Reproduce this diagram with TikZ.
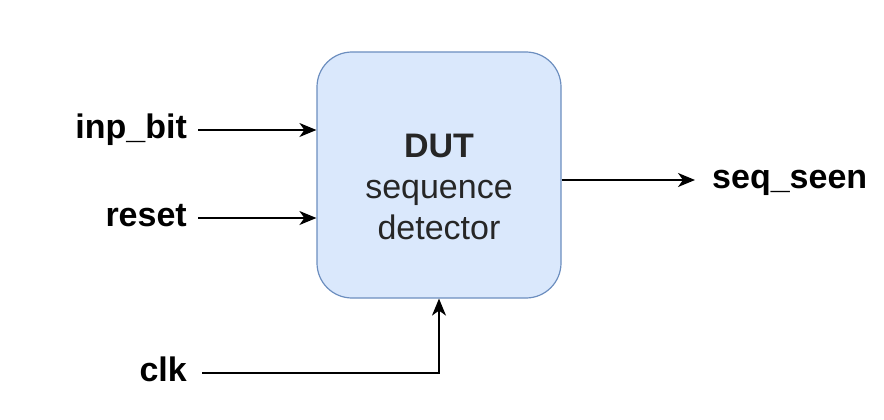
\documentclass[tikz,border=0pt]{standalone}
\usepackage{fontspec}
\setmainfont{Liberation Sans}
\usetikzlibrary{arrows.meta}
\definecolor{dutfill}{HTML}{DAE8FC}
\definecolor{dutline}{HTML}{6C8EBF}

\begin{document}
\begin{tikzpicture}[x=1pt,y=-1pt,
    sig/.style={font=\bfseries\fontsize{34}{40}\selectfont, inner sep=0pt, text height=24pt, text depth=7pt},
    wire/.style={line width=1.6pt, -{Stealth[length=17pt,width=14pt,inset=5pt]}}]
    \useasboundingbox (0,0) rectangle (884,420);
    % the block
    \node[draw=dutline, fill=dutfill, line width=1.2pt, rounded corners=35pt,
          minimum width=244pt, minimum height=246pt] (dut) at (439,175) {};
    \node[anchor=north, align=center, inner sep=0pt, text=black!85,
          font=\fontsize{34}{41}\selectfont] (dutname) at (439,134)
          {\textbf{DUT}\\sequence\\detector};
    % signals
    \node[sig, anchor=east] (inp) at (187,130) {inp\_bit};
    \node[sig, anchor=east] (rst) at (187,218) {reset};
    \node[sig, anchor=east] (clk) at (187,373) {clk};
    \node[sig, anchor=west] (seen) at (712,180) {seq\_seen};
    \draw[wire] ([xshift=11pt]inp.east) -- (dut.west |- inp.east);
    \draw[wire] ([xshift=11pt]rst.east) -- (dut.west |- rst.east);
    \draw[wire] ([xshift=15pt]clk.east) -| (dut.south);
    \draw[wire] (dut.east |- seen.west) -- ([xshift=-17pt]seen.west);
\end{tikzpicture}
\end{document}
